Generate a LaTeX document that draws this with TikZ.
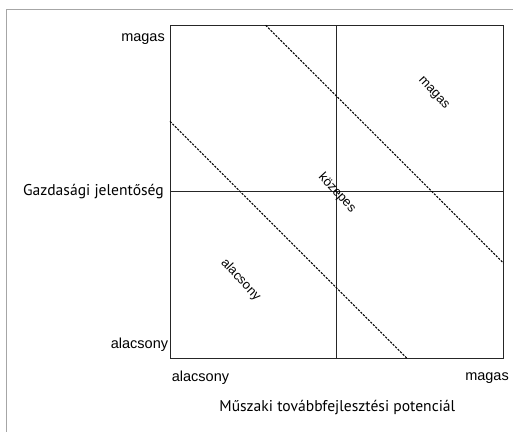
\documentclass[tikz,border=0pt]{standalone}
\usepackage{fontspec}
\setmainfont{Liberation Sans}
\newfontfamily\titlefont{PT Sans}
\usepackage{tikz}

\begin{document}
\begin{tikzpicture}[x=33.33pt,y=33.33pt,
    axlab/.style={font=\fontsize{14.5}{17}\selectfont,inner sep=0pt},
    axtitle/.style={font=\titlefont\fontsize{15.6}{18}\selectfont,inner sep=0pt},
    zonelab/.style={font=\fontsize{13}{15}\selectfont,inner sep=0pt,rotate=-47},
    zone/.style={line width=1pt,dash pattern=on 2.2pt off 1.3pt}]
  \useasboundingbox (-5.1,-2.2) rectangle (10.29,10.76);
  \draw[gray!70,line width=1pt] (-4.905,-2.3) -- (-4.905,10.47) -- (10.4,10.47);
  % matrix
  \coordinate (sw) at (0,0);
  \coordinate (ne) at (10,10);
  \draw[line width=1pt,black!85] (sw) rectangle (ne);
  \draw[line width=1pt,black!85] (5,0) -- (5,10);
  \draw[line width=1pt,black!85] (0,5) -- (10,5);
  \draw[zone] (2.87,10) -- (10,2.87);
  \draw[zone] (0,7.12) -- (7.12,0);
  % zones
  \node[zonelab] (zhigh) at (7.9,7.96) {magas};
  \node[zonelab] (zmid) at (5.01,4.97) {közepes};
  \node[zonelab] (zlow) at (2.12,2.36) {alacsony};
  % axes
  \node[axlab,anchor=east] (yhigh) at (-0.15,9.58) {magas};
  \node[axlab,anchor=east] (ylow) at (-0.05,0.43) {alacsony};
  \node[axtitle,anchor=east] (ytitle) at (-0.18,5.0) {Gazdasági jelentőség};
  \node[axlab,anchor=west] (xlow) at (0.05,-0.58) {alacsony};
  \node[axlab,anchor=east] (xhigh) at (10.17,-0.58) {magas};
  \node[axtitle] (xtitle) at (5.02,-1.47) {Műszaki továbbfejlesztési potenciál};
\end{tikzpicture}
\end{document}
